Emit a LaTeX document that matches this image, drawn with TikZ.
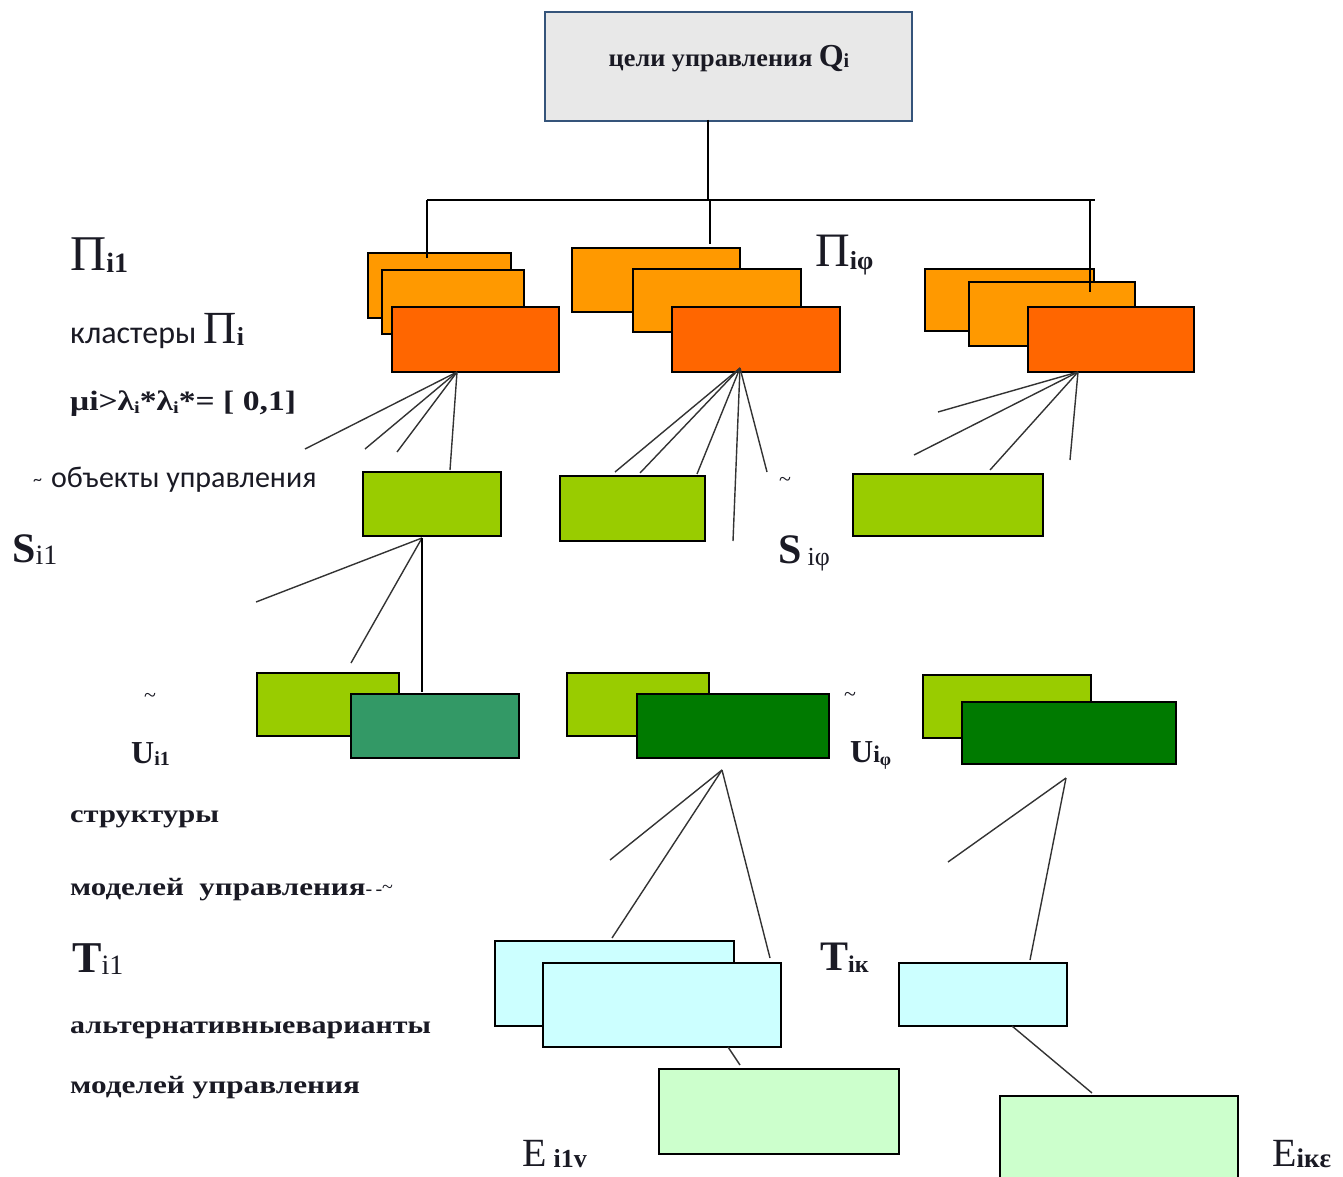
\documentclass[tikz,border=0pt]{standalone}
\usepackage{fontspec}
\usepackage{graphicx}
\setmainfont{Liberation Serif}
\newfontfamily\sansf{Carlito}
\definecolor{goalfill}{HTML}{E8E8E8}
\definecolor{goaldraw}{HTML}{35547A}
\definecolor{orangeA}{HTML}{FF9900}
\definecolor{orangeB}{HTML}{FF6600}
\definecolor{lime}{HTML}{99CC00}
\definecolor{tealg}{HTML}{339966}
\definecolor{darkg}{HTML}{007A00}
\definecolor{cyanT}{HTML}{CCFFFF}
\definecolor{mintE}{HTML}{CCFFCC}
\definecolor{inkc}{HTML}{1A1A24}
\newcommand{\fs}[1]{\fontsize{#1}{#1}\selectfont}
\newcommand{\sub}[2]{\raisebox{-#1pt}{#2}}
\begin{document}
\begin{tikzpicture}[x=1pt,y=-1pt,
  box/.style={draw=black, line width=2pt, inner sep=0pt, anchor=north west},
  tree/.style={line width=2pt, draw=black},
  link/.style={line width=1.4pt, draw=black!80},
  lbl/.style={anchor=base west, inner sep=0pt, text=inkc, font=\rmfamily}]
\useasboundingbox (0,0) rectangle (1343,1177);

% goal box
\node[box, draw=goaldraw, fill=goalfill, minimum width=367pt, minimum height=109pt] (goal) at (544,11) {};
\node[anchor=base, inner sep=0pt, text=inkc, font=\rmfamily] (goaltxt) at (729,67)
  {\fs{25}\bfseries\scalebox{1.05}[1]{цели управления} {\fs{32}Q}\sub{1}{\fs{20}i}};

% cluster group 1
\node[box, fill=orangeA, minimum width=143pt, minimum height=65pt] (c1a) at (367,252) {};
\node[box, fill=orangeA, minimum width=142pt, minimum height=64pt] (c1b) at (381,269) {};
\node[box, fill=orangeB, minimum width=167pt, minimum height=65pt] (c1c) at (391,306) {};
% cluster group 2
\node[box, fill=orangeA, minimum width=168pt, minimum height=64pt] (c2a) at (571,247) {};
\node[box, fill=orangeA, minimum width=168pt, minimum height=63pt] (c2b) at (632,268) {};
\node[box, fill=orangeB, minimum width=168pt, minimum height=65pt] (c2c) at (671,306) {};
% cluster group 3
\node[box, fill=orangeA, minimum width=169pt, minimum height=62pt] (c3a) at (924,268) {};
\node[box, fill=orangeA, minimum width=166pt, minimum height=64pt] (c3b) at (968,281) {};
\node[box, fill=orangeB, minimum width=166pt, minimum height=65pt] (c3c) at (1027,306) {};

% tree from the goal box
\coordinate (gdown) at (708,120);
\coordinate (gjoin) at (708,200);
\coordinate (jl) at (427,200);
\coordinate (jm) at (710,200);
\coordinate (jr) at (1090,200);
\coordinate (jend) at (1095,200);
\coordinate (d1) at (427,258);
\coordinate (d2) at (710,244);
\coordinate (d3) at (1090,292);
\draw[tree] (gdown) -- (gjoin);
\draw[tree] (jl) -- (jend);
\draw[tree] (jl) -- (d1);
\draw[tree] (jm) -- (d2);
\draw[tree] (jr) -- (d3);

% control objects
\node[box, fill=lime, minimum width=138pt, minimum height=64pt] (s1) at (362,471) {};
\node[box, fill=lime, minimum width=145pt, minimum height=65pt] (s2) at (559,475) {};
\node[box, fill=lime, minimum width=190pt, minimum height=62pt] (s3) at (852,473) {};

% fans below the clusters
\coordinate (h1) at (457,372);
\coordinate (f1a) at (305,449);
\coordinate (f1b) at (365,449);
\coordinate (f1c) at (397,452);
\coordinate (f1d) at (450,470);
\foreach \e in {f1a,f1b,f1c,f1d} \draw[link] (h1) -- (\e);
\coordinate (h2) at (740,368);
\coordinate (f2a) at (615,472);
\coordinate (f2b) at (640,473);
\coordinate (f2c) at (697,474);
\coordinate (f2d) at (733,541);
\coordinate (f2e) at (767,472);
\foreach \e in {f2a,f2b,f2c,f2d,f2e} \draw[link] (h2) -- (\e);
\coordinate (h3) at (1078,372);
\coordinate (f3a) at (938,412);
\coordinate (f3b) at (914,455);
\coordinate (f3c) at (990,470);
\coordinate (f3d) at (1070,460);
\foreach \e in {f3a,f3b,f3c,f3d} \draw[link] (h3) -- (\e);

% model structures
\node[box, fill=lime, minimum width=142pt, minimum height=63pt] (u1a) at (256,672) {};
\node[box, fill=tealg, minimum width=168pt, minimum height=64pt] (u1b) at (350,693) {};
\node[box, fill=lime, minimum width=142pt, minimum height=63pt] (u2a) at (566,672) {};
\node[box, fill=darkg, minimum width=192pt, minimum height=64pt] (u2b) at (636,693) {};
\node[box, fill=lime, minimum width=168pt, minimum height=63pt] (u3a) at (922,674) {};
\node[box, fill=darkg, minimum width=214pt, minimum height=62pt] (u3b) at (961,701) {};

% fan below the first object
\coordinate (hs) at (422,538);
\coordinate (fsa) at (256,602);
\coordinate (fsb) at (351,663);
\coordinate (fsc) at (422,692);
\draw[link] (hs) -- (fsa);
\draw[link] (hs) -- (fsb);
\draw[tree] (hs) -- (fsc);

% alternatives
\node[box, fill=cyanT, minimum width=239pt, minimum height=85pt] (t1a) at (494,940) {};
\node[box, fill=cyanT, minimum width=238pt, minimum height=84pt] (t1b) at (542,962) {};
\node[box, fill=cyanT, minimum width=168pt, minimum height=63pt] (t2) at (898,962) {};

% fans below the structures
\coordinate (hu2) at (722,770);
\coordinate (fu2a) at (610,860);
\coordinate (fu2b) at (612,938);
\coordinate (fu2c) at (770,958);
\foreach \e in {fu2a,fu2b,fu2c} \draw[link] (hu2) -- (\e);
\coordinate (hu3) at (1066,778);
\coordinate (fu3a) at (948,862);
\coordinate (fu3b) at (1030,960);
\foreach \e in {fu3a,fu3b} \draw[link] (hu3) -- (\e);

% estimates
\node[box, fill=mintE, minimum width=240pt, minimum height=85pt] (e1) at (658,1068) {};
\node[box, fill=mintE, minimum width=238pt, minimum height=90pt] (e2) at (999,1095) {};
\coordinate (ht1) at (728,1047);
\coordinate (fe1) at (740,1065);
\coordinate (ht2) at (1012,1026);
\coordinate (fe2) at (1092,1093);
\draw[link] (ht1) -- (fe1);
\draw[link] (ht2) -- (fe2);

% labels on the left
\node[lbl] (lpi) at (70,270) {\fs{50}Π\sub{2}{\fs{28}\bfseries i1}};
\node[lbl] (lcl) at (70,343) {\sansf\fs{32}кластеры {\rmfamily\fs{46}Π\sub{2}{\fs{26}\bfseries i}}};
\node[lbl] (lmu) at (70,410) {\fs{28}\bfseries\scalebox{1.2}[1]{μi>λ\sub{3}{\fs{17}i}*λ\sub{3}{\fs{17}i}*= [ 0,1]}};
\node[lbl] (lobj) at (33,487) {\sansf\fs{18}\raisebox{2pt}{\textasciitilde}\hspace{9pt}\fs{30}объекты управления};
\node[lbl] (ls1) at (12,562) {\fs{42}\bfseries S\sub{2}{\fs{28}\mdseries i1}};
\node[lbl] (lpif) at (815,266) {\fs{48}Π\sub{3}{\fs{26}\bfseries iφ}};
\node[lbl] (ltil1) at (779,486) {\fs{22}\textasciitilde};
\node[lbl] (lsf) at (778,563) {\fs{42}\bfseries S\hspace{6pt}\sub{2}{\fs{26}\mdseries iφ}};
\node[lbl] (ltil2) at (144,702) {\fs{22}\textasciitilde};
\node[lbl] (lu1) at (131,763) {\fs{32}\bfseries U\sub{2}{\fs{20}i1}};
\node[lbl] (ltil3) at (844,701) {\fs{22}\textasciitilde};
\node[lbl] (luf) at (850,762) {\fs{32}\bfseries U\fs{24}i\sub{3}{\fs{18}φ}};
\node[lbl] (lstr) at (70,822) {\fs{25}\bfseries\scalebox{1.22}[1]{структуры}};
\node[lbl] (lmod1) at (70,895) {\fs{25}\bfseries\scalebox{1.24}[1]{моделей\ \ управления}{\fs{20}\mdseries -\,-\raisebox{2pt}{\textasciitilde}}};
\node[lbl] (lt1) at (72,972) {\fs{44}\bfseries T\sub{2}{\fs{28}\mdseries i1}};
\node[lbl] (ltk) at (820,970) {\fs{42}\bfseries T\sub{2}{\fs{24}iк}};
\node[lbl] (lalt) at (70,1033) {\fs{25}\bfseries\scalebox{1.2}[1]{альтернативныеварианты}};
\node[lbl] (lmod2) at (70,1093) {\fs{25}\bfseries\scalebox{1.25}[1]{моделей управления}};
\node[lbl] (le1) at (522,1166) {\fs{40}E\hspace{7pt}\sub{1}{\fs{26}\bfseries i1v}};
\node[lbl] (le2) at (1272,1166) {\fs{40}E\sub{1}{\fs{27}\bfseries iкε}};
\end{tikzpicture}
\end{document}
